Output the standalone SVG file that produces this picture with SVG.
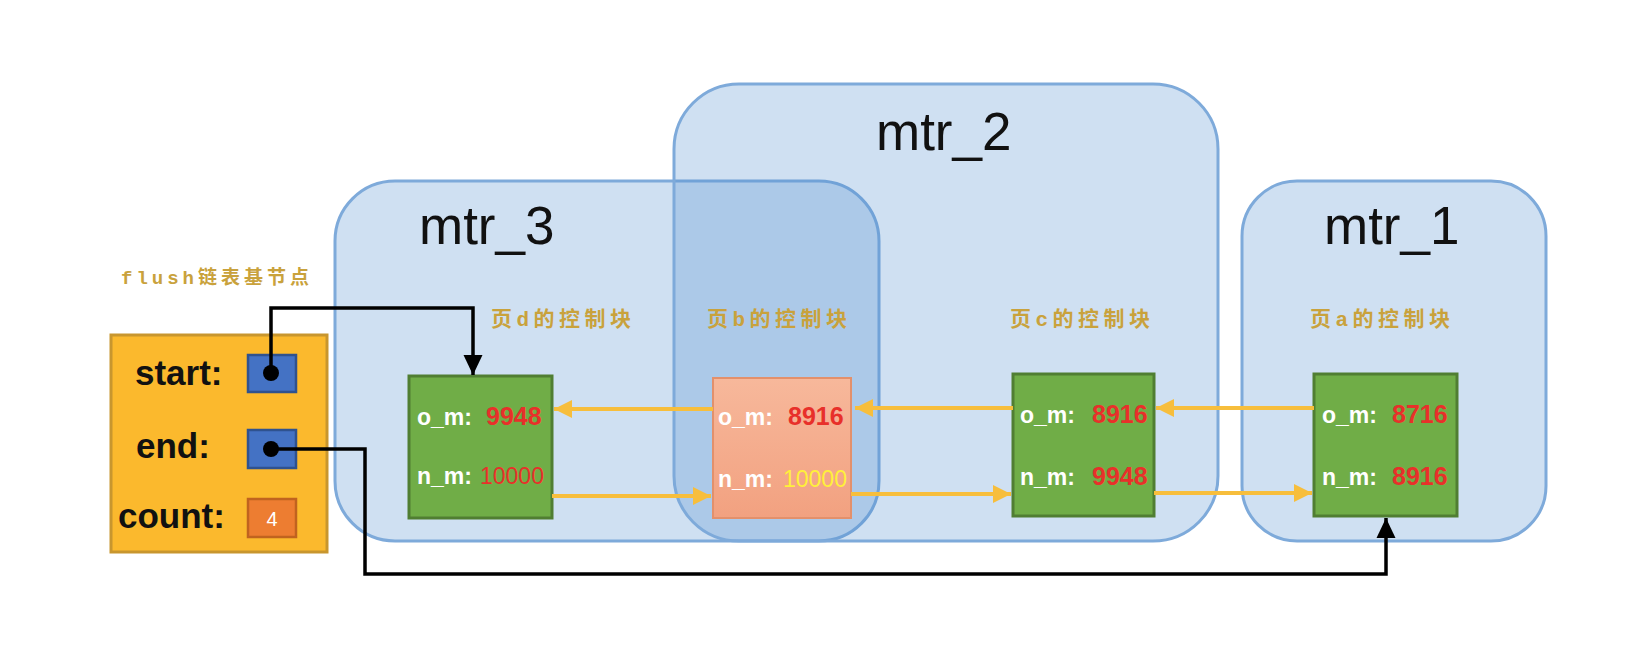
<svg xmlns="http://www.w3.org/2000/svg" width="1633" height="662" viewBox="0 0 1633 662">
  <style>
    .mtr { fill: rgb(78,141,207); fill-opacity: 0.27; stroke: #7EAADA; stroke-width: 3; }
    .mtrt { font-family: "Liberation Sans", Arial, sans-serif; font-size: 53px; fill: #111; }
    .cap { font-family: "Liberation Mono", "Noto Sans CJK SC", monospace; font-weight: bold; font-size: 21px; letter-spacing: 4.5px; fill: #C9A23C; }
    .green { fill: #70AD47; stroke: #507E32; stroke-width: 3; }
    .lbl { font-family: "Liberation Sans", Arial, sans-serif; font-weight: bold; font-size: 23px; fill: #FFFFFF; }
    .num { font-family: "Liberation Sans", Arial, sans-serif; font-weight: bold; font-size: 25px; fill: #E8302A; }
    .numr { font-family: "Liberation Sans", Arial, sans-serif; font-weight: normal; font-size: 23px; fill: #E8302A; }
    .big { font-family: "Liberation Sans", Arial, sans-serif; font-weight: bold; font-size: 35px; fill: #111; }
    .ya { fill: none; stroke: #F7BE3C; stroke-width: 4; }
    .bk { fill: none; stroke: #000; stroke-width: 3.5; }
  </style>
  <defs>
    <marker id="ah" markerUnits="userSpaceOnUse" markerWidth="20" markerHeight="20" viewBox="0 0 20 20" refX="18" refY="10" orient="auto">
      <path d="M0,1 L18,10 L0,19 Z" fill="#F7BE3C"/>
    </marker>
    <marker id="bh" markerUnits="userSpaceOnUse" markerWidth="22" markerHeight="22" viewBox="0 0 22 22" refX="20" refY="11" orient="auto">
      <path d="M0,1.5 L20,11 L0,20.5 Z" fill="#000"/>
    </marker>
    <linearGradient id="salmon" x1="0" y1="0" x2="0" y2="1">
      <stop offset="0" stop-color="#F7B89B"/>
      <stop offset="1" stop-color="#F2A180"/>
    </linearGradient>
  </defs>

  <g id="mtr_3">
    <rect class="mtr" x="335" y="181" width="544" height="360" rx="60" ry="60"/>
    <text class="mtrt" x="419" y="244">mtr_3</text>
  </g>
  <g id="mtr_2">
    <rect class="mtr" x="674" y="84" width="544" height="457" rx="65" ry="65"/>
    <text class="mtrt" x="876" y="150">mtr_2</text>
  </g>
  <g id="mtr_1">
    <rect class="mtr" x="1242" y="181" width="304" height="360" rx="55" ry="55"/>
    <text class="mtrt" x="1324" y="244">mtr_1</text>
  </g>

  <g id="flush">
    <text class="cap" x="121" y="284" style="font-size:19px;letter-spacing:4px">flush链表基节点</text>
    <rect x="111" y="335" width="216" height="217" fill="#FBB92D" stroke="#C8962E" stroke-width="3"/>
    <text class="big" x="135" y="385">start:</text>
    <text class="big" x="136" y="458">end:</text>
    <text class="big" x="118" y="528">count:</text>
    <rect x="248" y="355" width="48" height="37" fill="#4472C4" stroke="#2F528F" stroke-width="2.5"/>
    <rect x="248" y="430" width="48" height="38" fill="#4472C4" stroke="#2F528F" stroke-width="2.5"/>
    <rect x="248" y="499" width="48" height="38" fill="#ED7D31" stroke="#C0631F" stroke-width="2.5"/>
    <text x="272" y="526" text-anchor="middle" font-family="Liberation Sans, Arial, sans-serif" font-size="20" fill="#FFFFFF">4</text>
  </g>

  <g id="page_d">
    <text class="cap" x="491" y="326">页d的控制块</text>
    <rect class="green" x="409" y="376" width="143" height="142"/>
    <text class="lbl" x="417" y="425">o_m:</text>
    <text class="num" x="486" y="425">9948</text>
    <text class="lbl" x="417" y="484">n_m:</text>
    <text class="numr" x="480" y="484">10000</text>
  </g>
  <g id="page_b">
    <text class="cap" x="707" y="326">页b的控制块</text>
    <rect x="713" y="378" width="138" height="140" fill="url(#salmon)" stroke="#E3906B" stroke-width="2"/>
    <text class="lbl" x="718" y="425">o_m:</text>
    <text class="num" x="788" y="425">8916</text>
    <text class="lbl" x="718" y="487">n_m:</text>
    <text class="numr" x="783" y="487" style="fill:#FFF03A">10000</text>
  </g>
  <g id="page_c">
    <text class="cap" x="1010" y="326">页c的控制块</text>
    <rect class="green" x="1013" y="374" width="141" height="142"/>
    <text class="lbl" x="1020" y="423">o_m:</text>
    <text class="num" x="1092" y="423">8916</text>
    <text class="lbl" x="1020" y="485">n_m:</text>
    <text class="num" x="1092" y="485">9948</text>
  </g>
  <g id="page_a">
    <text class="cap" x="1310" y="326">页a的控制块</text>
    <rect class="green" x="1314" y="374" width="143" height="142"/>
    <text class="lbl" x="1322" y="423">o_m:</text>
    <text class="num" x="1392" y="423">8716</text>
    <text class="lbl" x="1322" y="485">n_m:</text>
    <text class="num" x="1392" y="485">8916</text>
  </g>

  <g id="connectors">
    <path class="ya" d="M713,409 H554" marker-end="url(#ah)"/>
    <path class="ya" d="M1013,408 H855" marker-end="url(#ah)"/>
    <path class="ya" d="M1314,408 H1156" marker-end="url(#ah)"/>
    <path class="ya" d="M552,496 H711" marker-end="url(#ah)"/>
    <path class="ya" d="M851,494 H1011" marker-end="url(#ah)"/>
    <path class="ya" d="M1154,493 H1312" marker-end="url(#ah)"/>
    <path class="bk" d="M271,373 V308 H473 V375" marker-end="url(#bh)"/>
    <path class="bk" d="M271,449 H365 V574 H1386 V518" marker-end="url(#bh)"/>
    <circle cx="271" cy="373" r="8" fill="#000"/>
    <circle cx="271" cy="449" r="8" fill="#000"/>
  </g>
</svg>
